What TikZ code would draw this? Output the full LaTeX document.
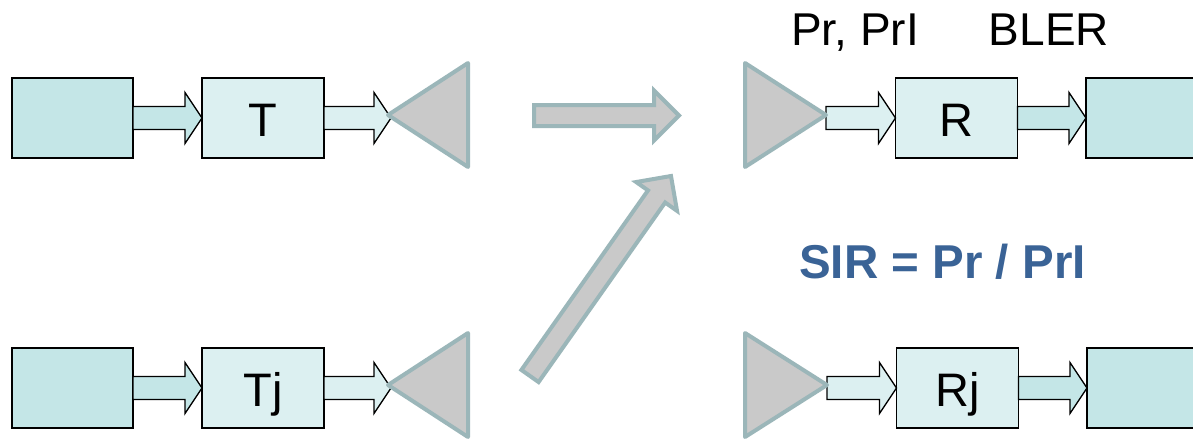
\documentclass[tikz,border=0pt]{standalone}
\usepackage{fontspec}
\setmainfont{Liberation Sans}
\usetikzlibrary{calc}
\definecolor{tdark}{HTML}{C4E6E7}
\definecolor{tlight}{HTML}{DCF0F1}
\definecolor{agray}{HTML}{C9C9C9}
\definecolor{aedge}{HTML}{9BB6B9}
\definecolor{sirblue}{HTML}{3A6396}
% #1 style, #2 from, #3 to, #4 shaft half width, #5 head half width, #6 head length
\newcommand{\blockarrow}[6]{%
  \path let \p1=($(#3)-(#2)$) in \pgfextra{%
    \pgfmathsetmacro\baang{atan2(\y1,\x1)}%
    \pgfmathsetmacro\balen{veclen(\x1,\y1)}%
    \global\let\baang\baang\global\let\balen\balen};
  \begin{scope}[shift={(#2)}, rotate=\baang]
    \draw[#1] (0pt,-#4) -- ({\balen pt-#6},-#4) -- ({\balen pt-#6},-#5) -- (\balen pt,0pt)
      -- ({\balen pt-#6},#5) -- ({\balen pt-#6},#4) -- (0pt,#4) -- cycle;
  \end{scope}}
\begin{document}
\begin{tikzpicture}[x=1pt,y=-1pt,
  boxd/.style={draw=black, line width=1.3pt, fill=tdark, minimum width=121pt, minimum height=80pt, inner sep=0pt, outer sep=0pt},
  boxl/.style={draw=black, line width=1.3pt, fill=tlight, minimum width=122pt, minimum height=80pt, inner sep=0pt, outer sep=0pt,
    font=\fontsize{47}{50}\selectfont, text height=36pt, text depth=-4pt},
  smalld/.style={draw=black, line width=1.3pt, fill=tdark, line join=miter},
  smalll/.style={draw=black, line width=1.3pt, fill=tlight, line join=miter},
  ant/.style={draw=aedge, line width=4pt, fill=agray, line join=round},
  bigarrow/.style={draw=aedge, line width=4pt, fill=agray, line join=miter},
  lbl/.style={font=\fontsize{46}{50}\selectfont, inner sep=0pt, anchor=base},
  sirlbl/.style={font=\fontsize{47.5}{50}\selectfont\bfseries, text=sirblue, inner sep=0pt, anchor=base}
]
\useasboundingbox (0,0) rectangle (1193,439);
\fill[white] (0,0) rectangle (1193,439);

% ---------- top row, transmitter ----------
\node[boxd] (s1) at (72.5,118) {};
\node[boxl] (T) at (263,118) {T};
\coordinate (a1) at (388,115);
\coordinate (a1in) at (391,118);
\blockarrow{smalld}{s1.east}{T.west}{11.5pt}{25.5pt}{17pt}
\blockarrow{smalll}{T.east}{a1in}{11.5pt}{25.5pt}{17pt}
\draw[ant] (a1) -- (468,63) -- (468,167) -- cycle;

% ---------- bottom row, transmitter ----------
\node[boxd] (s2) at (72.5,388) {};
\node[boxl] (Tj) at (263,388) {Tj};
\coordinate (a2) at (388,385);
\coordinate (a2in) at (391,388);
\blockarrow{smalld}{s2.east}{Tj.west}{11.5pt}{25.5pt}{17pt}
\blockarrow{smalll}{Tj.east}{a2in}{11.5pt}{25.5pt}{17pt}
\draw[ant] (a2) -- (468,333) -- (468,437) -- cycle;

% ---------- big gray arrows ----------
\coordinate (h0) at (534,115.5);
\coordinate (h1) at (679,115.5);
\blockarrow{bigarrow}{h0}{h1}{10.5pt}{25pt}{25pt}
\coordinate (d0) at (530,376);
\coordinate (d1) at (671,176);
\blockarrow{bigarrow}{d0}{d1}{10.5pt}{25pt}{25pt}

% ---------- top row, receiver ----------
\coordinate (a3) at (826,115);
\coordinate (a3out) at (826,118);
\node[boxl] (R) at (956.5,118) {R};
\node[boxd, minimum width=110pt] (s3) at (1141,118) {};
\blockarrow{smalll}{a3out}{R.west}{11.5pt}{25.5pt}{17pt}
\blockarrow{smalld}{R.east}{s3.west}{11.5pt}{25.5pt}{17pt}
\draw[ant] (a3) -- (745,63) -- (745,167) -- cycle;

% ---------- bottom row, receiver ----------
\coordinate (a4) at (827,385);
\coordinate (a4out) at (827,388);
\node[boxl] (Rj) at (957.5,388) {Rj};
\node[boxd, minimum width=110pt] (s4) at (1142,388) {};
\blockarrow{smalll}{a4out}{Rj.west}{11.5pt}{25.5pt}{17pt}
\blockarrow{smalld}{Rj.east}{s4.west}{11.5pt}{25.5pt}{17pt}
\draw[ant] (a4) -- (745,333) -- (745,437) -- cycle;

% ---------- labels ----------
\node[lbl] (lpr) at (855,45) {Pr, PrI};
\node[lbl] (lbler) at (1049,45) {BLER};
\node[sirlbl] (sir) at (942.5,278) {SIR = Pr / PrI};
\end{tikzpicture}
\end{document}
